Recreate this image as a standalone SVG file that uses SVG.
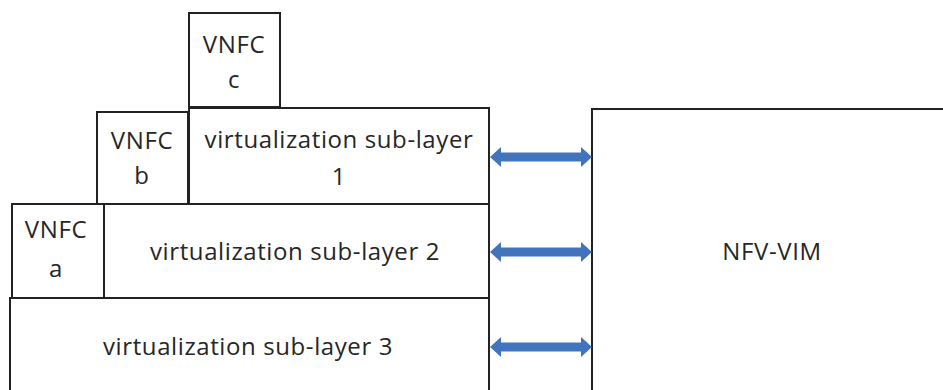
<svg xmlns="http://www.w3.org/2000/svg" width="943" height="390" viewBox="0 0 943 390">
  <style>
    .box { fill: #ffffff; stroke: #222222; stroke-width: 2; }
    .lbl { font-family: "Open Sans", "Liberation Sans", sans-serif; font-size: 24px; letter-spacing: 0.6px; fill: #262626; text-anchor: middle; }
    .arrow { fill: #4274bd; }
  </style>
  <rect width="943" height="390" fill="#ffffff"/>

  <g id="sub-layer-3">
    <rect class="box" x="10" y="298" width="479" height="110"/>
    <text class="lbl" x="248" y="355">virtualization sub-layer 3</text>
  </g>

  <g id="sub-layer-2">
    <rect class="box" x="104" y="204" width="385" height="94"/>
    <text class="lbl" x="295" y="260">virtualization sub-layer 2</text>
  </g>

  <g id="vnfc-a">
    <rect class="box" x="12" y="204" width="92" height="94"/>
    <text class="lbl" x="56" y="238">VNFC</text>
    <text class="lbl" x="56" y="277">a</text>
  </g>

  <g id="sub-layer-1">
    <rect class="box" x="189" y="108" width="300" height="96"/>
    <text class="lbl" x="339" y="148">virtualization sub-layer</text>
    <text class="lbl" x="339" y="185">1</text>
  </g>

  <g id="vnfc-b">
    <rect class="box" x="97" y="112" width="91" height="92"/>
    <text class="lbl" x="142" y="149">VNFC</text>
    <text class="lbl" x="142" y="184">b</text>
  </g>

  <g id="vnfc-c">
    <rect class="box" x="189" y="13" width="91" height="94"/>
    <text class="lbl" x="234" y="53">VNFC</text>
    <text class="lbl" x="234" y="88">c</text>
  </g>

  <g id="nfv-vim">
    <rect class="box" x="592" y="109" width="380" height="300"/>
    <text class="lbl" x="772" y="260">NFV-VIM</text>
  </g>

  <g id="connectors">
    <path class="arrow" d="M490 157 L501 147 L501 152.5 L581 152.5 L581 147 L592 157 L581 167 L581 161.5 L501 161.5 L501 167 Z"/>
    <path class="arrow" d="M490 252 L501 242 L501 247.5 L581 247.5 L581 242 L592 252 L581 262 L581 256.5 L501 256.5 L501 262 Z"/>
    <path class="arrow" d="M490 347 L501 337 L501 342.5 L581 342.5 L581 337 L592 347 L581 357 L581 351.5 L501 351.5 L501 357 Z"/>
  </g>
</svg>
